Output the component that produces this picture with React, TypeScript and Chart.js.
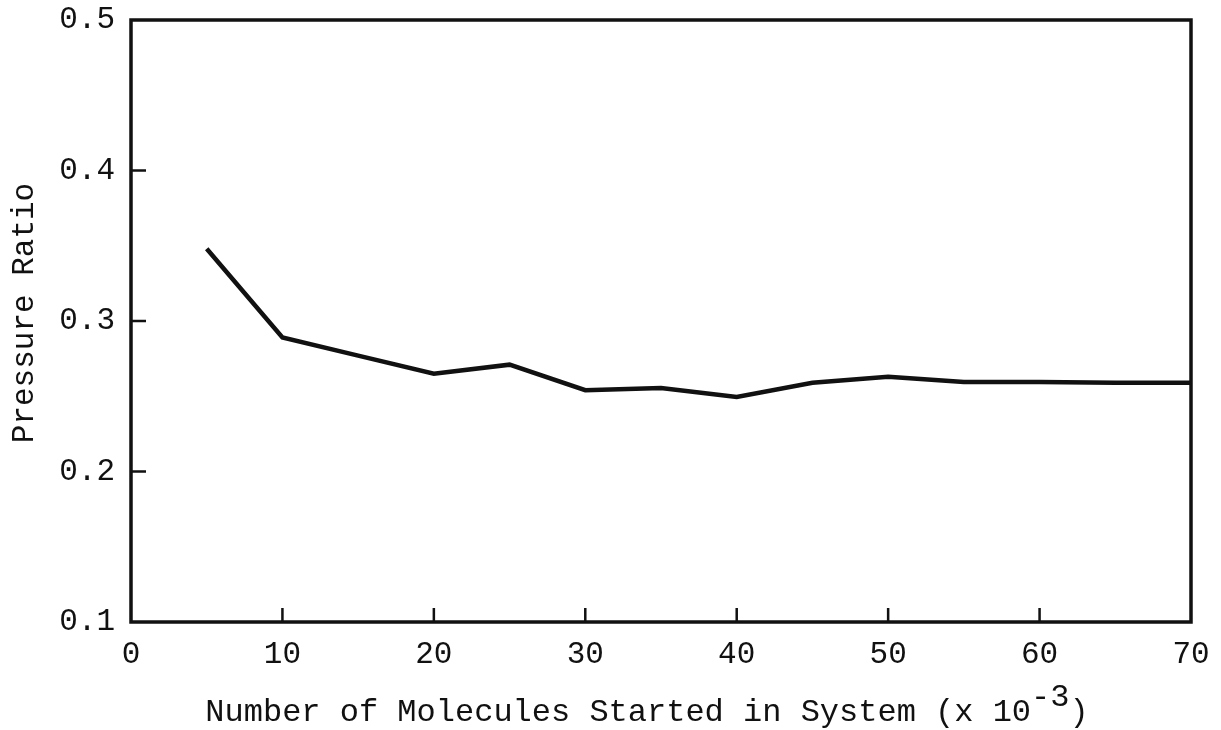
import React, { useEffect, useRef } from "react";
import { Chart, registerables } from "chart.js";

Chart.register(...registerables);

const xValues = [5, 10, 15, 20, 25, 30, 35, 40, 45, 50, 55, 60, 65, 70];
const pressureRatio = [0.348, 0.289, 0.277, 0.265, 0.271, 0.254, 0.2555, 0.2495, 0.259, 0.263, 0.2595, 0.2595, 0.259, 0.259];
const yTickMarks = [0.2, 0.3, 0.4];
const xTickMarks = [10, 20, 30, 40, 50, 60];
const xTitleMain = "Number of Molecules Started in System (x 10";
const xTitleSup = "-3";
const xTitleEnd = ")";
const yTitle = "Pressure Ratio";

const FONT = "'Liberation Mono', 'Courier New', monospace";
const INK = "#111111";

export default function App() {
  const ref = useRef<HTMLCanvasElement | null>(null);
  useEffect(() => {
    if (!ref.current) return;
    const framePlugin = {
      id: "frame",
      afterDatasetsDraw(chart: any) {
        const { ctx, chartArea: a, scales } = chart;
        ctx.save();
        ctx.strokeStyle = INK;
        ctx.lineWidth = 3.5;
        ctx.strokeRect(a.left, a.top, a.right - a.left, a.bottom - a.top);
        ctx.lineWidth = 2.5;
        ctx.beginPath();
        for (const v of yTickMarks) {
          const y = scales.y.getPixelForValue(v);
          ctx.moveTo(a.left, y);
          ctx.lineTo(a.left + 15, y);
        }
        for (const v of xTickMarks) {
          const x = scales.x.getPixelForValue(v);
          ctx.moveTo(x, a.bottom);
          ctx.lineTo(x, a.bottom - 14);
        }
        ctx.stroke();
        // x axis title with superscript
        ctx.fillStyle = INK;
        ctx.textBaseline = "alphabetic";
        ctx.textAlign = "left";
        ctx.font = `32px ${FONT}`;
        const w1 = ctx.measureText(xTitleMain).width;
        const w2 = ctx.measureText(xTitleSup).width;
        const w3 = ctx.measureText(xTitleEnd).width;
        const total = w1 + w2 + w3;
        const cx = (a.left + a.right) / 2 - 14;
        let x = cx - total / 2;
        const base = a.bottom + 99;
        ctx.fillText(xTitleMain, x, base);
        x += w1;
        ctx.fillText(xTitleSup, x, base - 15);
        x += w2;
        ctx.fillText(xTitleEnd, x, base);
        // y axis title
        ctx.save();
        ctx.translate(25, (a.top + a.bottom) / 2 - 8);
        ctx.rotate(-Math.PI / 2);
        ctx.textAlign = "center";
        ctx.textBaseline = "middle";
        ctx.font = `31px ${FONT}`;
        ctx.fillText(yTitle, 0, 0);
        ctx.restore();
        ctx.restore();
      },
    };
    const chart = new Chart(ref.current, {
      type: "line",
      data: {
        datasets: [
          {
            data: xValues.map((x, i) => ({ x, y: pressureRatio[i] })),
            borderColor: INK,
            borderWidth: 4.5,
            pointRadius: 0,
            tension: 0,
            fill: false,
          },
        ],
      },
      options: {
        animation: false,
        responsive: true,
        maintainAspectRatio: false,
        layout: { padding: { left: 8, top: 20, right: 30, bottom: 0 } },
        plugins: { legend: { display: false }, tooltip: { enabled: false } },
        scales: {
          x: {
            type: "linear",
            min: 0,
            max: 70,
            grid: { display: false, drawTicks: false },
            border: { display: false },
            ticks: {
              stepSize: 10,
              color: INK,
              padding: 14,
              maxRotation: 0,
              font: { family: FONT, size: 31 },
            },
            afterFit(scale: any) {
              scale.height = 108;
              scale.paddingLeft = 0;
              scale.paddingRight = 0;
            },
          },
          y: {
            type: "linear",
            min: 0.1,
            max: 0.5,
            grid: { display: false, drawTicks: false },
            border: { display: false },
            ticks: {
              stepSize: 0.1,
              color: INK,
              padding: 16,
              font: { family: FONT, size: 31 },
              callback: (v: any) => Number(v).toFixed(1),
            },
            afterFit(scale: any) {
              scale.width = 123;
              scale.paddingTop = 0;
              scale.paddingBottom = 0;
            },
          },
        },
      },
      plugins: [framePlugin],
    });
    return () => chart.destroy();
  }, []);
  return (
    <div style={{ position: "absolute", left: 0, top: 0, width: 1221, height: 730, background: "#fff" }}>
      <canvas ref={ref} />
    </div>
  );
}
